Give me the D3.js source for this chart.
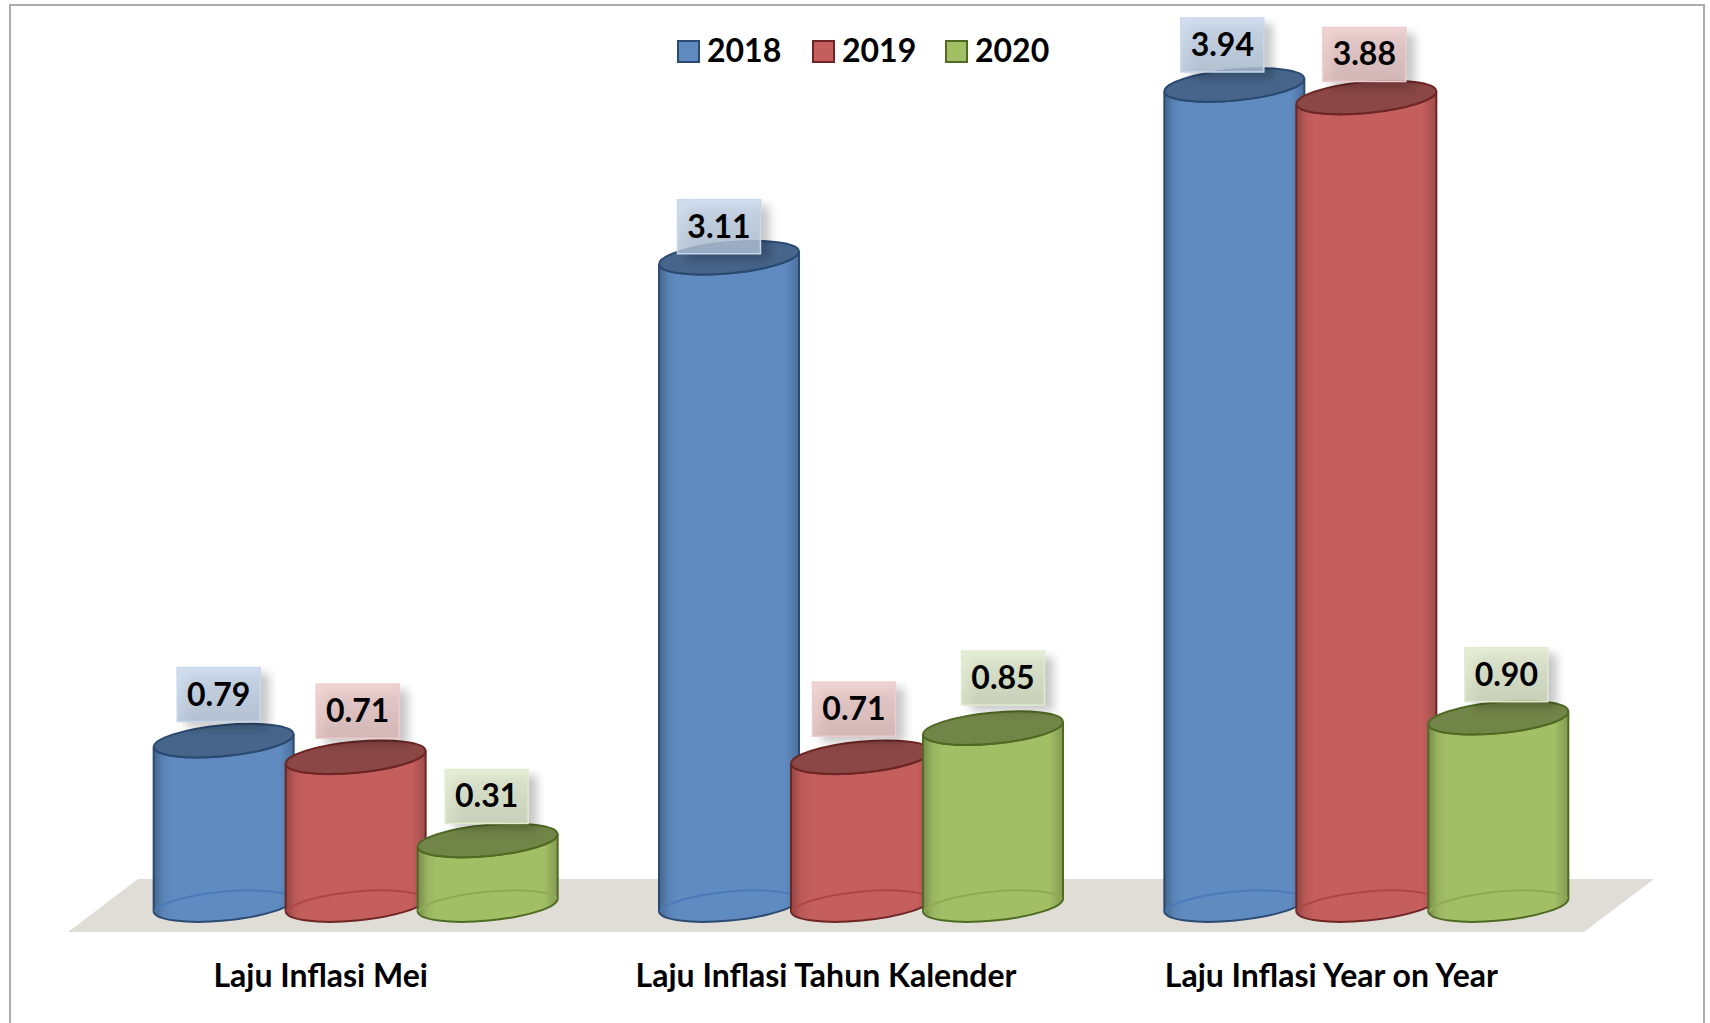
<!DOCTYPE html>
<html lang="en">
<head>
    <meta charset="UTF-8"/>
    <title>Laju Inflasi</title>
    <script src="https://d3js.org/d3.v7.min.js"></script>
    <style>
        body { margin: 0; background: #fff; }
        text { font-family: Lato, "Open Sans", sans-serif; font-weight: 700; fill: #000; }
    </style>
</head>
<body>
<script>
    var categories = ["Laju Inflasi Mei", "Laju Inflasi Tahun Kalender", "Laju Inflasi Year on Year"];
    var years = ["2018", "2019", "2020"];
    var values2018 = [0.79, 3.11, 3.94];
    var values2019 = [0.71, 0.71, 3.88];
    var values2020 = [0.31, 0.85, 0.90];
    var seriesValues = [values2018, values2019, values2020];

    var w = 1710;
    var h = 1023;
    var rx = 70;
    var ry = 15.5;
    var tilt = -5.4;
    var sideDrop = 6.5;
    var depth = 70;
    var floorFront = 932;
    var floorBack = 879;

    // colours per series: body, outline, top cap, label box top, label box bottom
    var bodyColors = ["#5f8bc1", "#c55f5d", "#a2bf66"];
    var lineColors = ["#2a4a72", "#6e2624", "#4f6a22"];
    var capColors = ["#47648a", "#8a4745", "#728548"];
    var ringColors = ["#4a7ab8", "#b04644", "#8dab52"];
    var boxTop = ["#c8d8ec", "#edcccb", "#e2ebcf"];
    var boxBottom = ["#afbfd3", "#d4b3b2", "#c9d2b6"];

    // hand placed data labels in the original: offset from cylinder centre, gap above the cap
    var labelNudgeX = [[-5, -10, -12], [2, -7, -2], [-1, 10, 8]];
    var labelGap = [[19, 4, 13], [19, 21, 16], [17, 23, 16]];
    var boxW = 83;
    var boxH = 54;

    var xScale = d3.scaleBand()
                   .domain(categories)
                   .range([68, 1584]);

    var seriesScale = d3.scalePoint()
                        .domain(years)
                        .range([-132, 132]);

    var yScale = d3.scaleLinear()
                   .domain([0, 3.94])
                   .range([905, 85]);

    var svg = d3.select("body")
                .append("svg")
                .attr("width", w)
                .attr("height", h)
                .style("display", "block");

    var defs = svg.append("defs");

    defs.append("filter")
        .attr("id", "blur")
        .attr("x", "-30%").attr("y", "-30%")
        .attr("width", "160%").attr("height", "160%")
        .append("feGaussianBlur")
        .attr("stdDeviation", 5);

    years.forEach(function(y, i) {
        var body = d3.color(bodyColors[i]);
        var g = defs.append("linearGradient").attr("id", "body" + i);
        [[0, body.darker(0.9)], [0.07, body.darker(0.15)], [0.14, body],
         [0.9, body], [1, body.darker(0.6)]].forEach(function(s) {
            g.append("stop").attr("offset", s[0]).attr("stop-color", s[1]);
        });

        var b = defs.append("linearGradient").attr("id", "box" + i)
                    .attr("x1", 0).attr("y1", 0).attr("x2", 0).attr("y2", 1);
        b.append("stop").attr("offset", 0).attr("stop-color", boxTop[i]);
        b.append("stop").attr("offset", 1).attr("stop-color", boxBottom[i]);
    });

    // frame, open at the bottom
    svg.append("path")
       .attr("d", "M10," + h + "V5H1704V" + h)
       .attr("fill", "none")
       .attr("stroke", "#ababab")
       .attr("stroke-width", 2);

    // floor
    svg.append("path")
       .attr("d", d3.line()([
            [xScale.range()[0], floorFront],
            [xScale.range()[0] + depth, floorBack],
            [xScale.range()[1] + depth, floorBack],
            [xScale.range()[1], floorFront]
       ]) + "Z")
       .attr("fill", "#dfddd6");

    // flatten to one row per cylinder
    var cylinders = [];
    years.forEach(function(y, s) {
        categories.forEach(function(c, k) {
            cylinders.push({
                year: y, category: c, s: s, k: k, value: seriesValues[s][k],
                cx: xScale(c) + xScale.bandwidth() / 2 + depth / 2 + seriesScale(y)
            });
        });
    });
    // within a group later series sit in front; groups do not overlap
    var cyl = svg.selectAll("g.cyl")
                 .data(cylinders)
                 .enter()
                 .append("g")
                 .attr("class", "cyl");

    function arc(x, y, sweep) {
        return "A" + rx + "," + ry + " " + tilt + " 0 " + sweep + " " + x + "," + y;
    }

    cyl.append("path")
       .attr("d", function(d) {
            var left = d.cx - rx, right = d.cx + rx;
            var top = yScale(d.value), base = yScale(0);
            return "M" + left + "," + (top + sideDrop) +
                   "V" + (base + sideDrop) +
                   arc(right, base - sideDrop, 0) +
                   "V" + (top - sideDrop) +
                   arc(left, top + sideDrop, 1) + "Z";
       })
       .attr("fill", function(d) { return "url(#body" + d.s + ")"; })
       .attr("stroke", function(d) { return lineColors[d.s]; })
       .attr("stroke-width", 2);

    // back half of the base ring, seen through the body
    cyl.append("path")
       .attr("d", function(d) {
            var base = yScale(0);
            return "M" + (d.cx - rx + 1) + "," + (base + sideDrop) +
                   arc(d.cx + rx - 1, base - sideDrop, 1);
       })
       .attr("fill", "none")
       .attr("stroke", function(d) { return ringColors[d.s]; })
       .attr("stroke-width", 2);

    // top cap
    cyl.append("ellipse")
       .attr("rx", rx + 0.2)
       .attr("ry", ry)
       .attr("transform", function(d) {
            return "translate(" + d.cx + "," + yScale(d.value) + ") rotate(" + tilt + ")";
       })
       .attr("fill", function(d) { return capColors[d.s]; })
       .attr("stroke", function(d) { return lineColors[d.s]; })
       .attr("stroke-width", 2);

    // data labels on top of everything
    var label = svg.selectAll("g.label")
                   .data(cylinders)
                   .enter()
                   .append("g")
                   .attr("class", "label")
                   .attr("transform", function(d) {
                        var x = d.cx + labelNudgeX[d.s][d.k] - boxW / 2;
                        var y = yScale(d.value) - labelGap[d.s][d.k] - boxH;
                        return "translate(" + x + "," + y + ")";
                   });

    label.append("rect")
         .attr("x", 9).attr("y", 6)
         .attr("width", boxW).attr("height", boxH)
         .attr("fill", "#000")
         .attr("opacity", 0.22)
         .attr("filter", "url(#blur)");

    label.append("rect")
         .attr("width", boxW).attr("height", boxH)
         .attr("fill", function(d) { return "url(#box" + d.s + ")"; })
         .attr("fill-opacity", 0.82)
         .attr("stroke", function(d) { return boxTop[d.s]; })
         .attr("stroke-width", 1.5);

    label.append("text")
         .attr("x", boxW / 2)
         .attr("y", 38)
         .attr("text-anchor", "middle")
         .attr("font-size", "32px")
         .text(function(d) { return d3.format(".2f")(d.value); });

    // category axis
    var xAxis = svg.append("g")
                   .attr("transform", "translate(0," + floorFront + ")")
                   .call(d3.axisBottom(xScale).tickSize(0).tickPadding(32));
    xAxis.select(".domain").remove();
    xAxis.selectAll("text")
         .attr("font-size", "32px")
         .style("font-family", "Lato, 'Open Sans', sans-serif");

    // legend
    var legendX = d3.scaleOrdinal().domain(years).range([677, 812, 945]);
    var legend = svg.selectAll("g.legend")
                    .data(years)
                    .enter()
                    .append("g")
                    .attr("class", "legend")
                    .attr("transform", function(d) { return "translate(" + legendX(d) + ",40)"; });

    legend.append("rect")
          .attr("x", 1).attr("y", 1)
          .attr("width", 21).attr("height", 21)
          .attr("fill", function(d, i) { return bodyColors[i]; })
          .attr("stroke", function(d, i) { return lineColors[i]; })
          .attr("stroke-width", 2);

    legend.append("text")
          .attr("x", 30)
          .attr("y", 22)
          .attr("font-size", "32px")
          .text(function(d) { return d; });
</script>
</body>
</html>
